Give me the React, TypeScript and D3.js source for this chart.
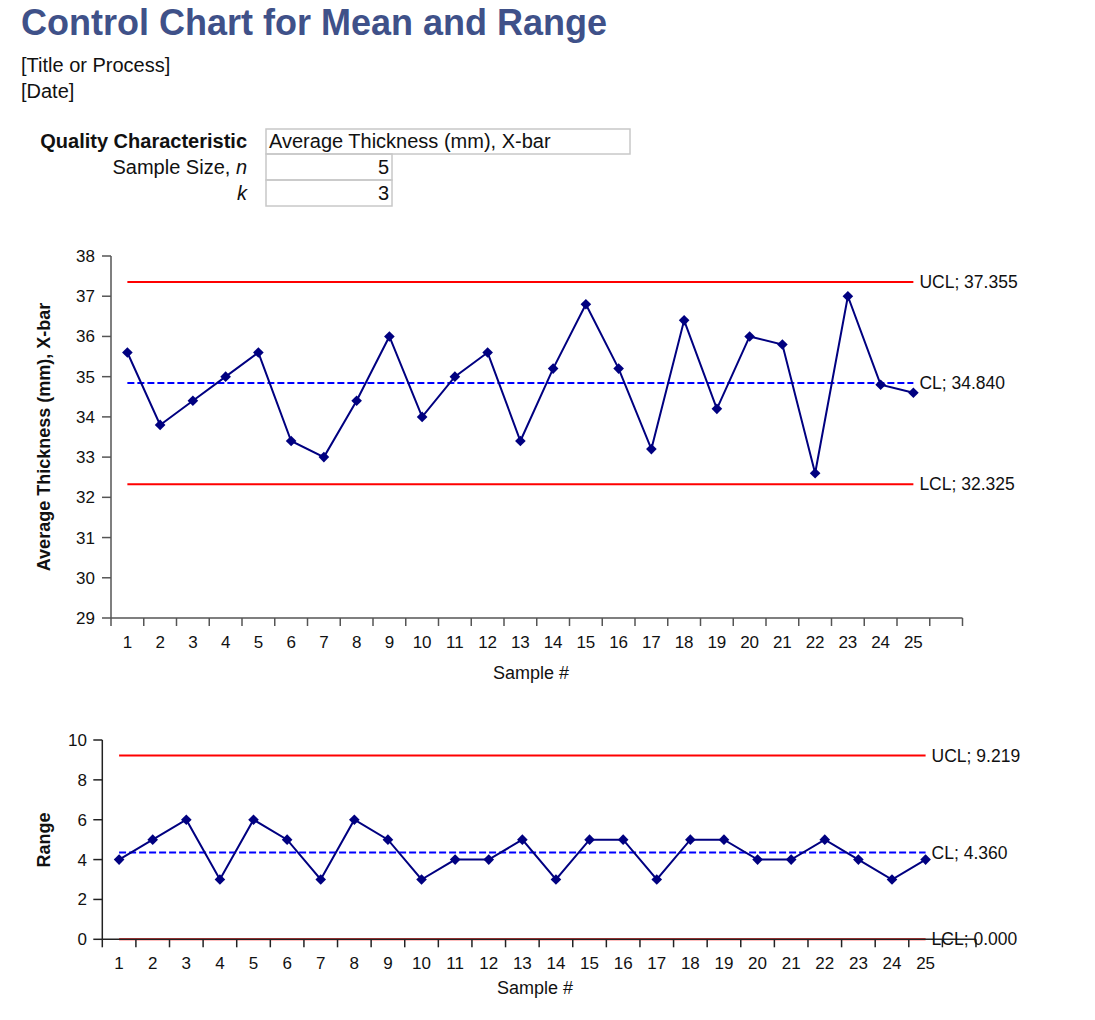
import * as d3 from 'd3';

// sample numbers (x categories)
const samples = [1, 2, 3, 4, 5, 6, 7, 8, 9, 10, 11, 12, 13, 14, 15, 16, 17, 18, 19, 20, 21, 22, 23, 24, 25];

// subgroup means (X-bar) and ranges
const xbarValues = [35.6, 33.8, 34.4, 35.0, 35.6, 33.4, 33.0, 34.4, 36.0, 34.0, 35.0, 35.6, 33.4, 35.2, 36.8, 35.2, 33.2, 36.4, 34.2, 36.0, 35.8, 32.6, 37.0, 34.8, 34.6];
const rangeValues = [4, 5, 6, 3, 6, 5, 3, 6, 5, 3, 4, 4, 5, 3, 5, 5, 3, 5, 5, 4, 4, 5, 4, 3, 4];

const xbarLimits = [
  {name: 'UCL', value: 37.355},
  {name: 'CL', value: 34.84},
  {name: 'LCL', value: 32.325},
];
const rangeLimits = [
  {name: 'UCL', value: 9.219},
  {name: 'CL', value: 4.36},
  {name: 'LCL', value: 0},
];

const xbarTicks = [29, 30, 31, 32, 33, 34, 35, 36, 37, 38];
const rangeTicks = [0, 2, 4, 6, 8, 10];

const FONT = '"Liberation Sans", Arial, Helvetica, sans-serif';
const NAVY = '#000080';

type Limit = {name: string; value: number};

type PanelProps = {
  values: number[];
  limits: Limit[];
  ticks: number[];
  yTitle: string;
  left: number;
  right: number;
  top: number;
  bottom: number;
  labelRight: number;
  titleY: number;
  sampleX: number;
  sampleY: number;
  axisColor: string;
};

const Panel = ({values, limits, ticks, yTitle, left, right, top, bottom, labelRight, titleY, sampleX, sampleY, axisColor}: PanelProps) => {
  // one empty slot after the last sample, like the spreadsheet chart
  const slots = [...samples.map(String), ''];
  const x = d3.scaleBand<string>().domain(slots).range([left, right]).padding(0);
  const bw = x.bandwidth();
  const cx = (s: number) => (x(String(s)) as number) + bw / 2;
  const y = d3.scaleLinear().domain([ticks[0], ticks[ticks.length - 1]]).range([bottom, top]);

  const line = d3
    .line<number>()
    .x((_, i) => cx(samples[i]))
    .y((d) => y(d));
  const diamond = d3.symbol().type(d3.symbolDiamond2).size(72)();

  const xFirst = cx(samples[0]);
  const xLast = cx(samples[samples.length - 1]);
  const boundaries = [...slots.map((s) => x(s) as number), right];

  return (
    <g>
      {/* control limits */}
      {limits.map((l) => (
        <line
          key={l.name}
          x1={xFirst}
          x2={xLast}
          y1={y(l.value)}
          y2={y(l.value)}
          stroke={l.name === 'CL' ? '#0000ff' : '#ff0000'}
          strokeWidth={2}
          strokeDasharray={l.name === 'CL' ? '7,3' : undefined}
        />
      ))}

      {/* axes */}
      <line x1={left} x2={left} y1={top} y2={bottom} stroke={axisColor} strokeWidth={1.5} />
      <line x1={left} x2={right} y1={bottom} y2={bottom} stroke={axisColor} strokeWidth={1.5} />
      {ticks.map((t) => (
        <g key={t}>
          <line x1={left - 9} x2={left} y1={y(t)} y2={y(t)} stroke={axisColor} strokeWidth={1.5} />
          <text x={labelRight} y={y(t)} dy="0.35em" textAnchor="end" fontSize={17} fill="#111">
            {t}
          </text>
        </g>
      ))}
      {boundaries.map((b, i) => (
        <line key={i} x1={b} x2={b} y1={bottom} y2={bottom + 8} stroke={axisColor} strokeWidth={1.5} />
      ))}
      {samples.map((s) => (
        <text key={s} x={cx(s)} y={bottom + 30} textAnchor="middle" fontSize={17} fill="#111">
          {s}
        </text>
      ))}

      {/* limit labels drawn over the axis */}
      {limits.map((l) => (
        <text key={l.name} x={xLast + 6} y={y(l.value)} dy="0.35em" fontSize={17.5} fill="#111">
          {`${l.name}; ${l.value.toFixed(3)}`}
        </text>
      ))}

      {/* data */}
      <path d={line(values) ?? ''} fill="none" stroke={NAVY} strokeWidth={2} />
      {values.map((v, i) => (
        <path key={i} d={diamond ?? ''} transform={`translate(${cx(samples[i])},${y(v)})`} fill={NAVY} />
      ))}

      <text x={sampleX} y={sampleY} textAnchor="middle" fontSize={18} fill="#111">
        Sample #
      </text>
      <text
        transform={`translate(50,${titleY}) rotate(-90)`}
        textAnchor="middle"
        fontSize={18}
        fontWeight="bold"
        fill="#111"
      >
        {yTitle}
      </text>
    </g>
  );
};

const App = () => {
  return (
    <svg
      width={1095}
      height={1020}
      style={{position: 'absolute', left: 0, top: 0, background: '#fff'}}
      fontFamily={FONT}
    >
      <rect width={1095} height={1020} fill="#fff" />
      <text x={21} y={35} fontSize={36} fontWeight="bold" fill="#3f5189">
        Control Chart for Mean and Range
      </text>
      <text x={21} y={72} fontSize={20} fill="#111">
        [Title or Process]
      </text>
      <text x={21} y={98} fontSize={20} fill="#111">
        [Date]
      </text>

      {/* parameter table */}
      <g fill="#111">
        <text x={247} y={148} textAnchor="end" fontSize={20} fontWeight="bold">
          Quality Characteristic
        </text>
        <text x={247} y={174} textAnchor="end" fontSize={20}>
          Sample Size, <tspan fontStyle="italic">n</tspan>
        </text>
        <text x={247} y={199.5} textAnchor="end" fontSize={20} fontStyle="italic">
          k
        </text>
        <rect x={266} y={129} width={364} height={25} fill="none" stroke="#c8c8c8" strokeWidth={1.5} />
        <rect x={266} y={154} width={126} height={26} fill="none" stroke="#c8c8c8" strokeWidth={1.5} />
        <rect x={266} y={180} width={126} height={26} fill="none" stroke="#c8c8c8" strokeWidth={1.5} />
        <text x={269} y={148} fontSize={20}>
          Average Thickness (mm), X-bar
        </text>
        <text x={389} y={174} textAnchor="end" fontSize={20}>
          5
        </text>
        <text x={389} y={199.5} textAnchor="end" fontSize={20}>
          3
        </text>
      </g>

      <Panel
        values={xbarValues}
        limits={xbarLimits}
        ticks={xbarTicks}
        yTitle="Average Thickness (mm), X-bar"
        left={111}
        right={962.5}
        top={256}
        bottom={618}
        labelRight={95}
        titleY={437}
        sampleX={531}
        sampleY={679}
        axisColor="#555"
      />
      <Panel
        values={rangeValues}
        limits={rangeLimits}
        ticks={rangeTicks}
        yTitle="Range"
        left={102.3}
        right={976}
        top={740}
        bottom={939.3}
        labelRight={87}
        titleY={840}
        sampleX={535}
        sampleY={994}
        axisColor="#222"
      />
    </svg>
  );
};

export default App;
